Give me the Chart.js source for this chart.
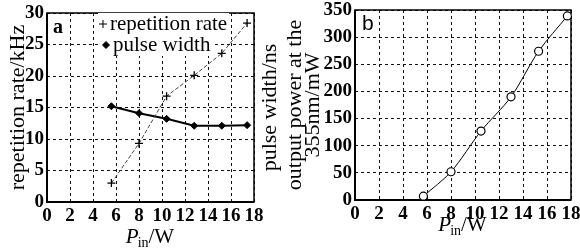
<!DOCTYPE html>
<html>
<head>
<meta charset="utf-8">
<script src="https://cdn.jsdelivr.net/npm/chart.js@4.4.0/dist/chart.umd.min.js"></script>
<style>
    body { margin: 0; background: #fff; }
    #wrap { position: relative; width: 580px; height: 248px; overflow: hidden; }
    canvas { position: absolute; top: 0; }
    #chartA { left: 0; }
    #chartB { left: 280px; }
</style>
</head>
<body>
<div id="wrap">
    <canvas id="chartA" width="290" height="248"></canvas>
    <canvas id="chartB" width="300" height="248"></canvas>
</div>
<script>
// ==========================
// DATA
// ==========================
const pinA = [5.6, 8.0, 10.4, 12.8, 15.2, 17.4];       // pump power, panel a (W)
const repRate = [3.0, 9.3, 16.8, 20.1, 23.6, 28.4];     // kHz
const pulseWidth = [15.2, 14.1, 13.2, 12.1, 12.1, 12.2]; // ns

const pinB = [5.7, 8.0, 10.5, 13.0, 15.3, 17.7];        // pump power, panel b (W)
const uvPower = [7, 52, 127, 190, 274, 339];            // mW at 355nm

const xTicks = [0, 2, 4, 6, 8, 10, 12, 14, 16, 18];
const yTicksA = [0, 5, 10, 15, 20, 25, 30];
const yTicksB = [0, 50, 100, 150, 200, 250, 300, 350];

const SERIF = "'Liberation Serif', 'Times New Roman', serif";
const toPoints = (xs, ys) => xs.map((x, i) => ({ x: x, y: ys[i] }));
const setTicks = vals => s => { s.ticks = vals.map(v => ({ value: v })); };
const tickFont = { family: SERIF, size: 19, weight: "bold" };

// ==========================
// PLUGINS
// ==========================
// box round the plot area + panel letter + x title with subscript
const framePlugin = {
    id: "frame",
    beforeDatasetsDraw(chart, args, opts) {
        const { ctx, chartArea: a } = chart;
        ctx.save();
        ctx.strokeStyle = "#000";
        ctx.lineWidth = 1.5;
        ctx.strokeRect(a.left, a.top, a.right - a.left, a.bottom - a.top);
        ctx.lineWidth = 2;
        ctx.beginPath();
        ctx.moveTo(a.left, a.top);
        ctx.lineTo(a.left, a.bottom);
        ctx.lineTo(a.right, a.bottom);
        ctx.stroke();
        ctx.restore();
    },
    afterDraw(chart, args, opts) {
        const { ctx, chartArea: a } = chart;
        ctx.save();
        ctx.fillStyle = "#000";
        ctx.textBaseline = "alphabetic";
        // panel letter
        ctx.font = opts.letterFont;
        ctx.fillText(opts.letter, a.left + opts.letterDx, a.top + opts.letterDy);
        // P_in/W
        const big = "italic 21px " + SERIF;
        const sub = "14px " + SERIF;
        const rest = "21px " + SERIF;
        ctx.font = big; const wP = ctx.measureText("P").width;
        ctx.font = sub; const wS = ctx.measureText("in").width;
        ctx.font = rest; const wW = ctx.measureText("/W").width;
        let x = (a.left + a.right) / 2 - (wP + wS + wW) / 2;
        const y = opts.titleY;
        ctx.font = big; ctx.fillText("P", x, y); x += wP;
        ctx.font = sub; ctx.fillText("in", x - 1, y + 4); x += wS - 1;
        ctx.font = rest; ctx.fillText("/W", x, y);
        // second y title on the right, read bottom to top
        if (opts.rightTitle) {
            ctx.translate(a.right + opts.rightTitleDx, (a.top + a.bottom) / 2);
            ctx.rotate(-Math.PI / 2);
            ctx.font = "22px " + SERIF;
            ctx.textAlign = "center";
            ctx.textBaseline = "middle";
            ctx.fillText(opts.rightTitle, 0, 0);
        }
        ctx.restore();
    }
};

// legend sitting inside panel a
const insideLegend = {
    id: "insideLegend",
    afterDraw(chart) {
        const { ctx, chartArea: a } = chart;
        const rows = [
            { ds: 0, mx: 56, my: 11, tx: 63, ty: 17 },
            { ds: 1, mx: 59, my: 32, tx: 66, ty: 38 }
        ];
        ctx.save();
        ctx.font = "21px " + SERIF;
        rows.forEach(r => {
            const ds = chart.data.datasets[r.ds];
            const w = ctx.measureText(ds.label).width;
            ctx.fillStyle = "#fff";
            ctx.fillRect(a.left + r.mx - 5, a.top + r.ty - 17, w + (r.tx - r.mx) + 7, 22);
            ctx.fillStyle = "#000";
            ctx.strokeStyle = "#000";
            Chart.helpers.drawPoint(ctx, {
                pointStyle: ds.pointStyle,
                radius: ds.pointRadius,
                borderWidth: ds.pointBorderWidth,
                rotation: 0
            }, a.left + r.mx, a.top + r.my);
            ctx.textBaseline = "alphabetic";
            ctx.fillText(ds.label, a.left + r.tx, a.top + r.ty);
        });
        ctx.restore();
    }
};

// common bits
function xScale(height) {
    return {
        type: "linear",
        min: 0,
        max: 18,
        afterBuildTicks: setTicks(xTicks),
        afterFit: s => { s.height = height; s.paddingLeft = 0; s.paddingRight = 0; },
        grid: { color: "#111", lineWidth: 1, drawTicks: false },
        border: { display: false, dash: [3, 3] },
        ticks: {
            color: "#000",
            padding: 3,
            autoSkip: false,
            maxRotation: 0,
            font: tickFont
        }
    };
}

// ==========================
// PANEL A
// ==========================
new Chart(document.getElementById("chartA"), {
    type: "line",
    data: {
        datasets: [{
            label: "repetition rate",
            data: toPoints(pinA, repRate),
            borderColor: "#444",
            backgroundColor: "#000",
            borderWidth: 1,
            borderDash: [4, 2],
            pointStyle: "cross",
            pointRadius: 4,
            pointBorderWidth: 1.3,
            pointBorderColor: "#000"
        }, {
            label: "pulse width",
            data: toPoints(pinA, pulseWidth),
            borderColor: "#000",
            backgroundColor: "#000",
            borderWidth: 2,
            pointStyle: "rectRot",
            pointRadius: 3.5,
            pointBorderWidth: 1,
            pointBorderColor: "#000",
            pointBackgroundColor: "#000"
        }]
    },
    options: {
        responsive: false,
        animation: false,
        events: [],
        layout: { padding: { top: 13, right: 36, left: 0, bottom: 0 } },
        plugins: {
            legend: { display: false },
            tooltip: { enabled: false },
            frame: {
                letter: "a", letterFont: "bold 20px " + SERIF, letterDx: 6, letterDy: 20, titleY: 243,
                rightTitle: "pulse width/ns", rightTitleDx: 16
            }
        },
        scales: {
            x: xScale(46),
            y: {
                type: "linear",
                position: "left",
                min: 0,
                max: 30,
                afterBuildTicks: setTicks(yTicksA),
                afterFit: s => { s.width = 47; s.paddingTop = 0; s.paddingBottom = 0; },
                grid: { color: "#111", lineWidth: 1, drawTicks: false },
                border: { display: false, dash: [3, 3] },
                ticks: { color: "#000", padding: 3, font: tickFont },
                title: {
                    display: true,
                    text: "repetition rate/kHz",
                    color: "#000",
                    padding: { top: 5, bottom: 0 },
                    font: { family: SERIF, size: 22 }
                }
            }
        }
    },
    plugins: [framePlugin, insideLegend]
});

// ==========================
// PANEL B
// ==========================
new Chart(document.getElementById("chartB"), {
    type: "line",
    data: {
        datasets: [{
            label: "output power",
            data: toPoints(pinB, uvPower),
            borderColor: "#000",
            borderWidth: 1,
            tension: 0.3,
            pointStyle: "circle",
            pointRadius: 4,
            pointBorderWidth: 1.2,
            pointBorderColor: "#000",
            pointBackgroundColor: "#fff"
        }]
    },
    options: {
        responsive: false,
        animation: false,
        events: [],
        layout: { padding: { top: 10, right: 9, left: 0, bottom: 0 } },
        plugins: {
            legend: { display: false },
            tooltip: { enabled: false },
            frame: { letter: "b", letterFont: "21px 'Liberation Sans', Arial, sans-serif", letterDx: 7, letterDy: 20, titleY: 231 }
        },
        scales: {
            x: xScale(48),
            y: {
                type: "linear",
                min: 0,
                max: 350,
                afterBuildTicks: setTicks(yTicksB),
                afterFit: s => { s.width = 75; s.paddingTop = 0; s.paddingBottom = 0; },
                grid: { color: "#111", lineWidth: 1, drawTicks: false },
                border: { display: false, dash: [3, 3] },
                ticks: { color: "#000", padding: 3, font: tickFont },
                title: {
                    display: true,
                    text: ["output power at the", "355nm/mW"],
                    color: "#000",
                    padding: { top: 6, bottom: 0 },
                    font: { family: SERIF, size: 22, lineHeight: 0.82 }
                }
            }
        }
    },
    plugins: [framePlugin]
});
</script>
</body>
</html>
